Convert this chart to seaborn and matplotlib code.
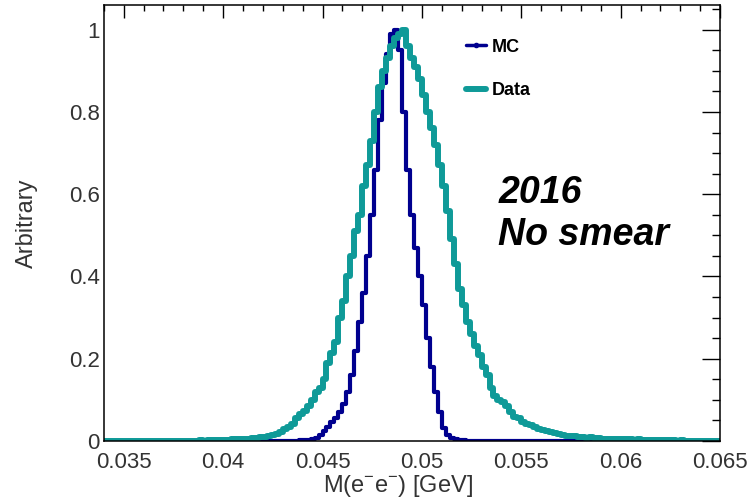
import numpy as np
import pandas as pd
import seaborn as sns
import matplotlib.pyplot as plt
from matplotlib.lines import Line2D
from matplotlib.ticker import MultipleLocator

# histogram binning: 155 bins of 0.0002 GeV from 0.034 to 0.065
bin_lo = 0.034
bin_w = 0.0002

# MC (normalised to peak)
mc_vals = [0.0] * 45 + [
    0.0, 0.0, 0.001, 0.001, 0.002, 0.002, 0.003, 0.004, 0.008, 0.015,
    0.025, 0.035, 0.045, 0.055, 0.07, 0.09, 0.12, 0.16, 0.22, 0.29,
    0.36, 0.45, 0.55, 0.66, 0.78, 0.87, 0.94, 0.99, 1.00, 0.95,
    0.80, 0.66, 0.55, 0.47, 0.40, 0.33, 0.25, 0.18, 0.12, 0.07,
    0.032, 0.014, 0.008, 0.005, 0.003, 0.002, 0.001, 0.001,
] + [0.0] * 62

# Data (normalised to peak)
data_vals = [0.0] * 15 + [0.0005] * 5 + [
    0.001, 0.001, 0.001, 0.001, 0.002, 0.001, 0.002, 0.002, 0.002, 0.003,
    0.003, 0.003, 0.004, 0.004, 0.005, 0.005, 0.006, 0.007, 0.008, 0.009,
    0.010, 0.012, 0.014, 0.017, 0.022, 0.028, 0.034, 0.042, 0.055, 0.065,
    0.072, 0.085, 0.10, 0.12, 0.13, 0.15, 0.19, 0.215, 0.24, 0.30,
    0.34, 0.40, 0.45, 0.51, 0.55, 0.62, 0.67, 0.73, 0.80, 0.86,
    0.90, 0.93, 0.96, 0.98, 0.99, 1.00, 0.96, 0.93, 0.91, 0.88,
    0.84, 0.80, 0.76, 0.72, 0.67, 0.62, 0.56, 0.49, 0.43, 0.37,
    0.33, 0.29, 0.26, 0.23, 0.21, 0.18, 0.16, 0.13, 0.11, 0.10,
    0.095, 0.085, 0.07, 0.058, 0.055, 0.047, 0.042, 0.038, 0.034, 0.030,
    0.026, 0.024, 0.021, 0.019, 0.017, 0.015, 0.013, 0.012, 0.011, 0.010,
    0.009, 0.008, 0.009, 0.007, 0.007, 0.006, 0.006, 0.005, 0.005, 0.004,
    0.004,
    0.004, 0.004, 0.003, 0.004, 0.003, 0.003, 0.003, 0.002, 0.003, 0.002,
    0.002, 0.002, 0.002, 0.001, 0.002, 0.001, 0.001, 0.001, 0.001, 0.001,
    0.001, 0.001, 0.001, 0.001,
]

xticks = [0.035, 0.04, 0.045, 0.05, 0.055, 0.06, 0.065]
xtick_labels = ['0.035', '0.04', '0.045', '0.05', '0.055', '0.06', '0.065']
yticks = [0, 0.2, 0.4, 0.6, 0.8, 1.0]
ytick_labels = ['0', '0.2', '0.4', '0.6', '0.8', '1']

mc_color = '#00008f'
data_color = '#0f9a98'

edges = bin_lo + bin_w * np.arange(len(mc_vals) + 1)
centers = 0.5 * (edges[:-1] + edges[1:])
df = pd.DataFrame({'mass': centers, 'mc': mc_vals, 'data': data_vals})

sns.set_style('white')
plt.rcParams['font.family'] = ['Liberation Sans', 'DejaVu Sans']
plt.rcParams['mathtext.fontset'] = 'custom'
plt.rcParams['mathtext.default'] = 'regular'

fig = plt.figure(figsize=(7.47, 5.0), dpi=100)
ax = fig.add_axes([0.139, 0.118, 0.825, 0.872])

# MC first, data drawn on top (as in the original)
sns.histplot(data=df, x='mass', weights='mc', bins=edges.tolist(), element='step',
             fill=False, color=mc_color, linewidth=3.0, ax=ax)
sns.histplot(data=df, x='mass', weights='data', bins=edges.tolist(), element='step',
             fill=False, color=data_color, linewidth=4.3, ax=ax)

ax.set_xlim(0.034, 0.065)
ax.set_ylim(0, 1.06)
ax.set_xticks(xticks)
ax.set_xticklabels(xtick_labels)
ax.set_yticks(yticks)
ax.set_yticklabels(ytick_labels)
ax.xaxis.set_minor_locator(MultipleLocator(0.001))
ax.yaxis.set_minor_locator(MultipleLocator(0.05))

for s in ax.spines.values():
    s.set_color('black')
    s.set_linewidth(1.1)

ax.tick_params(which='both', direction='in', top=True, right=True,
               color='black', width=1.0, labelsize=16, labelcolor='#333333')
ax.tick_params(axis='x', which='major', length=9.5, pad=8)
ax.tick_params(axis='x', which='minor', length=4.5)
ax.tick_params(axis='y', which='major', length=13, pad=3)
ax.tick_params(axis='y', which='minor', length=6)

ax.set_xlabel(r'M(e$^{-}$e$^{-}$) [GeV]', fontsize=17, color='#333333', labelpad=0)
ax.xaxis.label.set_x(0.478)
ax.set_ylabel('Arbitrary', fontsize=17, color='#333333', labelpad=22)

handles = [
    Line2D([], [], color=mc_color, lw=2.5, marker='o', markersize=3),
    Line2D([], [], color=data_color, lw=4.3),
]
ax.legend(handles, ['MC', 'Data'], loc='upper left', bbox_to_anchor=(0.562, 0.96),
          frameon=False, prop={'weight': 'bold', 'size': 13},
          handlelength=1.1, handletextpad=0.3, labelspacing=1.45,
          labelcolor='black')

ax.text(0.64, 0.52, '2016\nNo smear', transform=ax.transAxes, fontsize=27,
        fontweight='bold', fontstyle='italic', ha='left', va='center',
        linespacing=1.2, color='black')

fig.savefig('out.png', dpi=100)
